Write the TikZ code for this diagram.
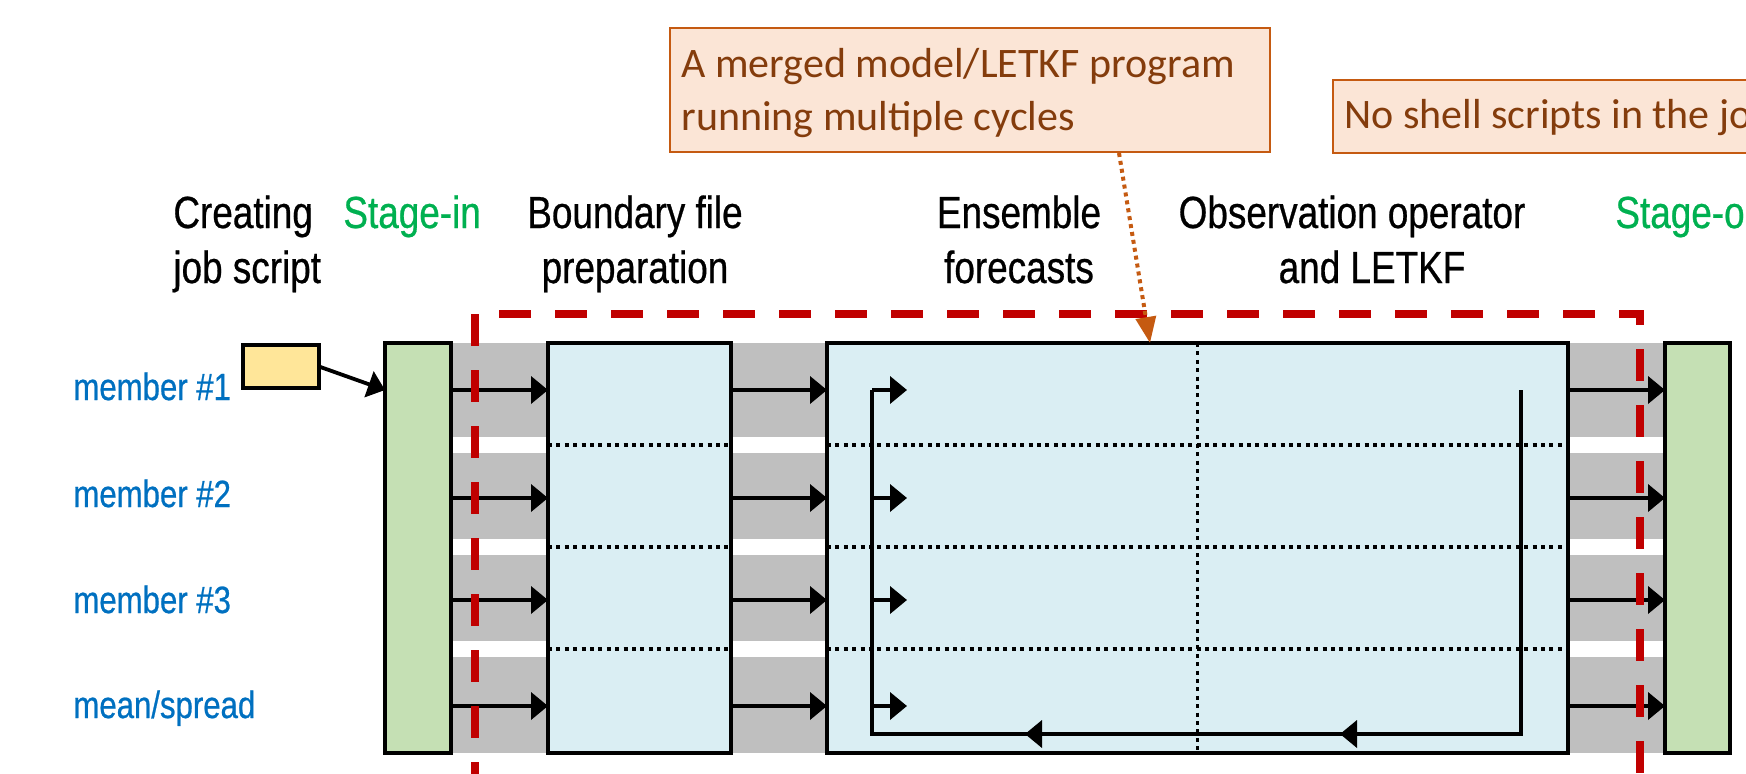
\documentclass[tikz,border=0pt]{standalone}
\usepackage{fontspec}
\setmainfont{Liberation Sans}
\newfontfamily\narrowfont{Liberation Sans}[FakeStretch=0.82,FakeBold=0.6]
\newfontfamily\calfont{Carlito}
\usetikzlibrary{arrows.meta,calc}
\definecolor{gband}{HTML}{BFBFBF}
\definecolor{lblue}{HTML}{DAEEF3}
\definecolor{lgreen}{HTML}{C5E0B4}
\definecolor{lyellow}{HTML}{FFE699}
\definecolor{dred}{HTML}{C00000}
\definecolor{orng}{HTML}{C55A11}
\definecolor{peach}{HTML}{FBE5D6}
\definecolor{cbrown}{HTML}{843C0C}
\definecolor{sgreen}{HTML}{00B050}
\definecolor{mblue}{HTML}{0070C0}
\begin{document}
\begin{tikzpicture}[x=0.5pt,y=-0.5pt,
  box/.style={draw=black, line width=2.2pt, inner sep=0pt, outer sep=0pt},
  lbl/.style={font=\narrowfont\fontsize{22.5}{27}\selectfont, inner sep=0pt, anchor=base},
  mem/.style={font=\narrowfont\fontsize{19}{23}\selectfont, text=mblue, inner sep=0pt, anchor=base west},
  callbox/.style={draw=orng, fill=peach, line width=1.3pt, inner sep=0pt},
  calltext/.style={font=\calfont\fontsize{21}{25}\selectfont, text=cbrown, inner sep=0pt, anchor=base west},
  arr/.style={line width=1.9pt, -{Triangle[length=8.5pt,width=13.5pt]}},
  loopline/.style={line width=1.8pt},
  dotline/.style={line width=1.9pt, dash pattern=on 2pt off 2.2pt},
  reddash/.style={draw=dred, line width=3.6pt, dash pattern=on 16pt off 12pt},
  orangearr/.style={draw=orng, line width=2pt, dash pattern=on 2pt off 2pt,
     -{Triangle[length=13pt,width=10pt,fill=orng,sep=0pt]}},
]
\useasboundingbox (0,0) rectangle (1746,773);
\clip (0,0) rectangle (1746,773);

% gray bands
\foreach \a/\b in {343/437,453/539,555/641,657/753}
  \fill[gband] (451,\a) rectangle (1665,\b);

% boxes
\node[box, fill=lgreen, minimum width=33pt, minimum height=205pt] (stagein) at (418,548) {};
\node[box, fill=lblue, minimum width=91.5pt, minimum height=205pt] (boundary) at (639.5,548) {};
\node[box, fill=lblue, minimum width=370.5pt, minimum height=205pt] (ensemble) at (1197.5,548) {};
\node[box, fill=lgreen, minimum width=32.5pt, minimum height=205pt] (stageout) at (1697.5,548) {};
\node[box, fill=lyellow, minimum width=38pt, minimum height=21.5pt] (job) at (281,366.5) {};

% row coordinates
\coordinate (r1) at (0,390);
\coordinate (r2) at (0,498);
\coordinate (r3) at (0,600);
\coordinate (r4) at (0,706);
\coordinate (d1) at (0,445);
\coordinate (d2) at (0,547);
\coordinate (d3) at (0,649);

% dotted separators
\foreach \d in {d1,d2,d3}{
  \draw[dotline] (boundary.west |- \d) -- (boundary.east |- \d);
  \draw[dotline] (ensemble.west |- \d) -- (ensemble.east |- \d);
}
\draw[dotline] (ensemble.north) -- (ensemble.south);

% row arrows
\foreach \r in {r1,r2,r3,r4}{
  \draw[arr] (stagein.east |- \r) -- (boundary.west |- \r);
  \draw[arr] (boundary.east |- \r) -- (ensemble.west |- \r);
  \draw[arr] (ensemble.east |- \r) -- (stageout.west |- \r);
}

% job script arrow
\draw[arr] (job.east) -- (stagein.west |- r1);

% cycle loop inside ensemble box
\coordinate (lt) at (872,390);
\coordinate (lb) at (872,734);
\coordinate (rb) at (1521,734);
\coordinate (rt) at (1521,390);
\coordinate (st) at (907,390);
\coordinate (a2) at (1340,734);
\coordinate (a1) at (1025,734);
\draw[loopline] (rt) -- (rb) -- (lb) -- (lt);
\foreach \r in {r1,r2,r3,r4}
  \draw[arr] (lt |- \r) -- (st |- \r);
\draw[arr] (rb) -- (a2);
\draw[arr] (a2) -- (a1);

% red dashed frame
\coordinate (rtl) at (475,314);
\coordinate (rbl) at (475,800);
\coordinate (rtr) at (1640,314);
\coordinate (rbr) at (1640,800);
\draw[reddash] (rtl) -- (rbl);
\draw[reddash, dash phase=16pt] (rtl) -- (rtr) -- (rbr);

% member labels
\node[mem] (m1) at (73,400) {member \#1};
\node[mem] (m2) at (73,507) {member \#2};
\node[mem] (m3) at (73,613) {member \#3};
\node[mem] (m4) at (73,718) {mean/spread};

% stage labels
\node[lbl, anchor=base west] (l1a) at (173,228) {Creating};
\node[lbl, anchor=base west] (l1b) at (173,283) {job script};
\node[lbl, anchor=base west, text=sgreen] (l2) at (343,228) {Stage-in};
\node[lbl] (l3a) at (635,228) {Boundary file};
\node[lbl] (l3b) at (635,283) {preparation};
\node[lbl] (l4a) at (1019,228) {Ensemble};
\node[lbl] (l4b) at (1019,283) {forecasts};
\node[lbl] (l5a) at (1352,228) {Observation operator};
\node[lbl] (l5b) at (1372,283) {and LETKF};
\node[lbl, anchor=base west, text=sgreen] (l6) at (1615,228) {Stage-o};

% callouts
\node[callbox, minimum width=300pt, minimum height=62pt] (c1) at (970,90) {};
\node[calltext] (c1a) at (681,77) {A merged model/LETKF program};
\node[calltext] (c1b) at (681,130) {running multiple cycles};
\node[callbox, minimum width=233.5pt, minimum height=36.5pt] (c2) at (1566.5,116.5) {};
\node[calltext] (c2a) at (1344,128) {No shell scripts in the jo};

% orange pointer
\coordinate (oa) at (1119,153);
\coordinate (ob) at (1150,343);
\draw[orangearr] (oa) -- (ob);
\end{tikzpicture}
\end{document}
